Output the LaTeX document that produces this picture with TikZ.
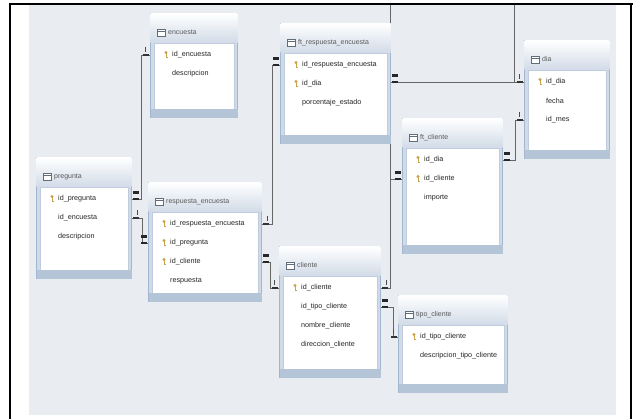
\documentclass[tikz,border=0pt]{standalone}
\usepackage{fontspec}
\setmainfont{Liberation Sans}
\usetikzlibrary{calc}

\definecolor{sqlback}{HTML}{E9EDF1}
\definecolor{sqlblue}{HTML}{A3B6CF}
\definecolor{sqlgold}{HTML}{C9A24A}
\colorlet{table edge}{sqlblue}
\colorlet{table title}{sqlblue!50}
\colorlet{table foot}{sqlblue!80}
\colorlet{row text}{black!85}

\pgfdeclarelayer{back}
\pgfdeclarelayer{lines}
\pgfsetlayers{back,lines,main}

\tikzset{
  tablebox/.style={rectangle, draw=table edge, line width=1.2pt, fill=table title, anchor=north west, inner sep=0pt},
  rowtext/.style={anchor=west, inner sep=0pt, font=\fontsize{7.2}{8}\selectfont, text=row text},
  titletext/.style={anchor=west, inner sep=0pt, font=\fontsize{7}{8}\selectfont, text=black!65},
  pkey/.pic={\draw[sqlgold, line width=0.9pt] (0,-1.5) -- (0,3.5);
             \fill[sqlgold] (0,-2.5) circle (1.6);
             \draw[sqlgold, line width=0.7pt] (0,2.5) -- (1.6,2.5);},
  onend/.pic={\fill[black!80] (-7,-1.2) rectangle (-1,1.2);
              \draw[black!70, line width=0.6pt] (-5,-3) -- (-5,-8);},
  manyend/.pic={\fill[black!85] (-7,-1.3) rectangle (-1,1.3);
                \fill[black!85] (-7,-8) rectangle (-1,-5.4);}
  }
\tikzstyle{relation} = [draw, line width=0.7pt, black!60]

\begin{document}
\begin{tikzpicture}[x=1pt,y=-1pt]
\useasboundingbox (0,0) rectangle (633,419);
\begin{pgfonlayer}{back}
  \fill[sqlback] (29,5) rectangle (616,415);
\end{pgfonlayer}
\draw[line width=1.4pt] (10,419) -- (10,4) -- (633,4);
\draw[line width=1.4pt] (631,4) -- (631,419);

% tables
\foreach \pos/\name/\w/\h/\title in {{(150,13)/enc/87/104/encuesta}, {(36,157)/preg/95/121/pregunta},
    {(148,182)/resp/113/119/respuesta\_encuesta}, {(280,23)/fresp/110/120/ft\_respuesta\_encuesta},
    {(524,40)/dia/85/118/dia}, {(402,118)/fcli/100/135/ft\_cliente},
    {(279,246)/cli/101/131/cliente}, {(398,295)/tcli/109/97/tipo\_cliente}} {
  \node[tablebox, minimum width=\w, minimum height=\h] (\name) at \pos {};
  \shade[top color=white, bottom color=table title] ($(\name.north west)+(0.6,0.6)$) rectangle ($(\name.north east)+(-0.6,30)$);
  \fill[white] ($(\name.north west)+(4,30)$) rectangle ($(\name.south east)+(-4,-9)$);
  \draw[table edge!70, line width=0.5pt] ($(\name.north west)+(4,30)$) rectangle ($(\name.south east)+(-4,-9)$);
  \fill[table foot] ($(\name.south west)+(0.6,-9)$) rectangle ($(\name.south east)+(-0.6,-0.6)$);
  \draw[table edge!60!black, fill=white, line width=0.4pt] ($(\name.north west)+(7,16)$) rectangle ++(8,7);
  \draw[table edge!60!black, line width=0.4pt] ($(\name.north west)+(7,18.5)$) -- ++(8,0);
  \node[titletext] (\name-t) at ($(\name.north west)+(18,19.5)$) {\title};
}

% columns
\foreach \name/\i/\field/\pk in {enc/1/id\_encuesta/1, enc/2/descripcion/0,
    preg/1/id\_pregunta/1, preg/2/id\_encuesta/0, preg/3/descripcion/0,
    resp/1/id\_respuesta\_encuesta/1, resp/2/id\_pregunta/1, resp/3/id\_cliente/1, resp/4/respuesta/0,
    fresp/1/id\_respuesta\_encuesta/1, fresp/2/id\_dia/1, fresp/3/porcentaje\_estado/0,
    dia/1/id\_dia/1, dia/2/fecha/0, dia/3/id\_mes/0,
    fcli/1/id\_dia/1, fcli/2/id\_cliente/1, fcli/3/importe/0,
    cli/1/id\_cliente/1, cli/2/id\_tipo\_cliente/0, cli/3/nombre\_cliente/0, cli/4/direccion\_cliente/0,
    tcli/1/id\_tipo\_cliente/1, tcli/2/descripcion\_tipo\_cliente/0} {
  \node[rowtext] (\name-\i) at ($(\name.north west)+(22,{23+19*\i})$) {\field};
  \ifnum\pk=1 \pic at ($(\name.north west)+(16,{23+19*\i})$) {pkey}; \fi
}

\coordinate (mes-in) at (514,4);
\coordinate (top-in) at (390,4);

\begin{pgfonlayer}{lines}
  \draw[relation] (enc-1 -| enc.west) -- ++(-9,0) |- (preg-1 -| preg.east);
  \draw[relation] (preg-2 -| preg.east) -- ++(10,0) |- (resp-2 -| resp.west);
  \draw[relation] (resp-1 -| resp.east) -- ++(10,0) |- (fresp-1 -| fresp.west);
  \draw[relation] (resp-3 -| resp.east) -- ++(8,0) |- (cli-1 -| cli.west);
  \draw[relation] (fresp.east |- dia-1) -- (dia-1 -| dia.west);
  \draw[relation] (mes-in) |- (dia-1 -| dia.west);
  \draw[relation] (fcli-1 -| fcli.east) -- ++(12,0) |- (dia-3 -| dia.west);
  \draw[relation] (top-in) |- (cli-1 -| cli.east);
  \draw[relation] (fcli-2 -| fcli.west) -- ++(-12,0) |- (cli-1 -| cli.east);
  \draw[relation] (cli-2 -| cli.east) -- ++(12,0) |- (tcli-1 -| tcli.west);
\end{pgfonlayer}

\pic at (enc-1 -| enc.west) {onend};
\pic[xscale=-1] at (preg-1 -| preg.east) {manyend};
\pic[xscale=-1] at (preg-2 -| preg.east) {onend};
\pic at (resp-2 -| resp.west) {manyend};
\pic[xscale=-1] at (resp-1 -| resp.east) {onend};
\pic at (fresp-1 -| fresp.west) {manyend};
\pic[xscale=-1] at (resp-3 -| resp.east) {manyend};
\pic at (cli-1 -| cli.west) {onend};
\pic[xscale=-1] at (fresp.east |- dia-1) {manyend};
\pic at (dia-1 -| dia.west) {onend};
\pic[xscale=-1] at (fcli-1 -| fcli.east) {manyend};
\pic at (dia-3 -| dia.west) {onend};
\pic at (fcli-2 -| fcli.west) {manyend};
\pic[xscale=-1] at (cli-1 -| cli.east) {onend};
\pic[xscale=-1] at (cli-2 -| cli.east) {manyend};
\pic at (tcli-1 -| tcli.west) {onend};
\end{tikzpicture}
\end{document}
